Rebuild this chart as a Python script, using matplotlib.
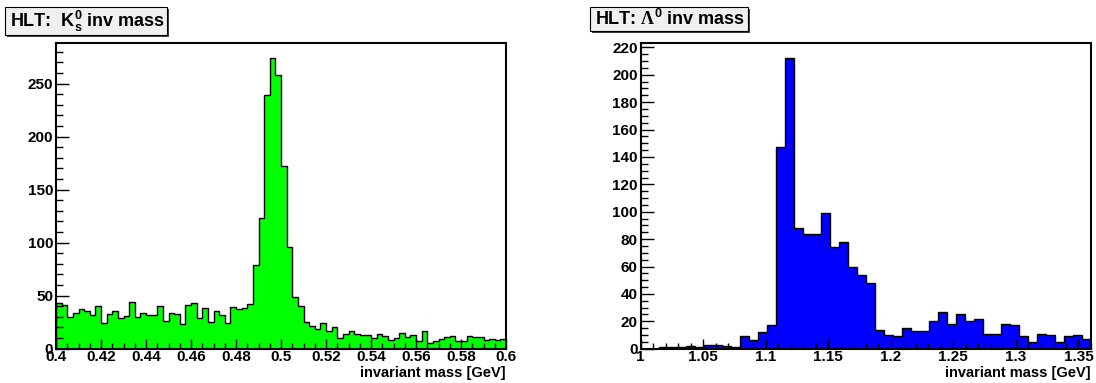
import numpy as np
import matplotlib.pyplot as plt
from matplotlib.patches import Rectangle
from matplotlib.ticker import MultipleLocator

plt.rcParams['font.family'] = 'Liberation Sans'
plt.rcParams['font.weight'] = 'bold'
plt.rcParams['mathtext.fontset'] = 'custom'
plt.rcParams['mathtext.rm'] = 'Liberation Serif'
plt.rcParams['mathtext.bf'] = 'Liberation Sans:bold'

# K0s candidates: 80 bins from 0.4 to 0.6 GeV
k0_edges = np.linspace(0.4, 0.6, 81)
k0_counts = [43, 41, 30, 34, 37, 36, 32, 40, 24, 33,
             36, 29, 31, 44, 30, 34, 32, 32, 40, 26,
             34, 33, 23, 41, 43, 29, 38, 25, 36, 32,
             24, 39, 37, 38, 42, 79, 123, 239, 274, 258,
             172, 96, 49, 40, 25, 21, 19, 24, 17, 20,
             10, 14, 17, 14, 13, 13, 10, 14, 12, 8,
             10, 15, 11, 13, 7, 17, 5, 7, 9, 11,
             12, 7, 7, 12, 11, 11, 8, 9, 8, 9]

# Lambda candidates: 50 bins from 1.0 to 1.36 GeV
lam_edges = np.linspace(1.0, 1.36, 51)
lam_counts = [0, 0, 1, 1, 1, 2, 1, 3, 3, 2,
              1, 9, 6, 12, 17, 147, 212, 88, 84, 84,
              99, 74, 78, 60, 54, 48, 14, 10, 9, 15,
              13, 13, 20, 27, 18, 25, 20, 22, 11, 11,
              18, 17, 9, 5, 11, 10, 5, 9, 10, 7]

W, H = 1096, 383
fig = plt.figure(figsize=(W / 100, H / 100), dpi=100)


def px_axes(x0, x1, ytop, ybot):
    return fig.add_axes([x0 / W, (H - ybot) / H, (x1 - x0) / W, (ybot - ytop) / H])


def title_box(x0, x1, ytop, ybot, label, size):
    sh = 2
    fig.patches.append(Rectangle(((x0 + sh) / W, (H - ybot - sh) / H), (x1 - x0) / W,
                                 (ybot - ytop) / H, transform=fig.transFigure,
                                 facecolor='#404040', edgecolor='none'))
    fig.patches.append(Rectangle((x0 / W, (H - ybot) / H), (x1 - x0) / W,
                                 (ybot - ytop) / H, transform=fig.transFigure,
                                 facecolor='#f0f0f0', edgecolor='black', lw=0.8))
    fig.text((x0 + 5) / W, (H - (ytop + ybot) / 2) / H, label, fontsize=size,
             fontweight='bold', ha='left', va='center')


def style(ax, xmaj, xmin, ymaj, ymin):
    for s in ax.spines.values():
        s.set_linewidth(1.5)
    ax.xaxis.set_major_locator(MultipleLocator(xmaj))
    ax.xaxis.set_minor_locator(MultipleLocator(xmin))
    ax.yaxis.set_major_locator(MultipleLocator(ymaj))
    ax.yaxis.set_minor_locator(MultipleLocator(ymin))
    ax.tick_params(axis='both', which='both', direction='in', top=False, right=False,
                   labelsize=11, width=1)
    ax.tick_params(axis='x', which='major', length=7, pad=1)
    ax.tick_params(axis='x', which='minor', length=4)
    ax.tick_params(axis='y', which='major', length=9, pad=2)
    ax.tick_params(axis='y', which='minor', length=5)
    ax.xaxis.set_major_formatter(plt.FuncFormatter(lambda v, p: ('%g' % round(v, 4))))
    ax.text(1.0, -0.058, 'invariant mass [GeV]', transform=ax.transAxes,
            ha='right', va='top', fontsize=10.5, fontweight='bold')


ax1 = px_axes(56, 506, 43.3, 348.7)
ax1.stairs(k0_counts, k0_edges, fill=True, color='#00ff00')
ax1.stairs(k0_counts, k0_edges, color='black', lw=1)
ax1.set_xlim(0.4, 0.6)
ax1.set_ylim(0, 288)
style(ax1, 0.02, 0.005, 50, 10)

ax2 = px_axes(640.5, 1091, 43.3, 348.7)
ax2.stairs(lam_counts, lam_edges, fill=True, color='#0000ff')
ax2.stairs(lam_counts, lam_edges, color='black', lw=1)
ax2.set_xlim(1.0, 1.36)
ax2.set_ylim(0, 223)
style(ax2, 0.05, 0.01, 20, 5)

title_box(5, 167, 7, 35, r'HLT:  $\mathbf{K^{0}_{s}}$ inv mass', 13)
title_box(590, 748, 7, 31, r'HLT: $\Lambda^{\mathbf{0}}$ inv mass', 13)

fig.savefig('out.png', dpi=100)
